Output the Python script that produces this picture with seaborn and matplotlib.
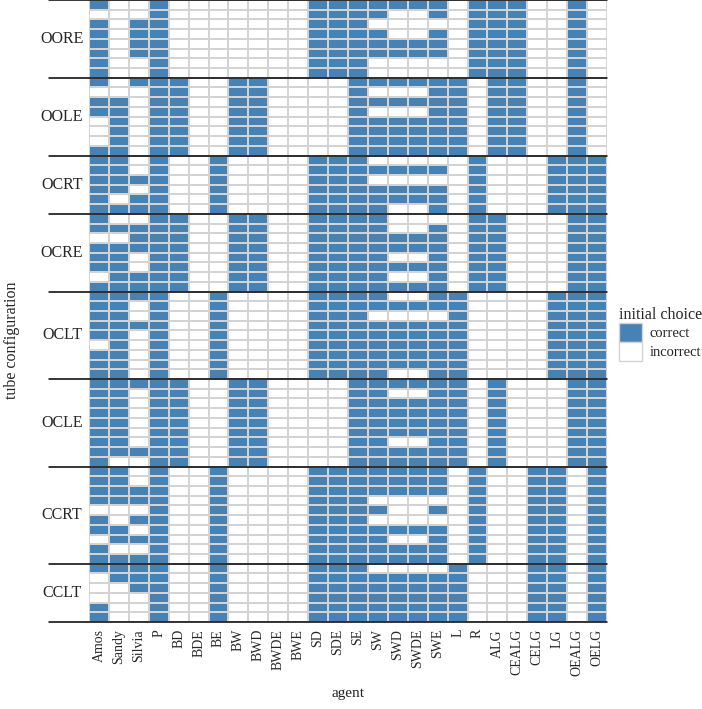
import numpy as np
import pandas as pd
import matplotlib
matplotlib.use("Agg")
import matplotlib.pyplot as plt
import matplotlib.transforms as mtrans
from matplotlib.colors import ListedColormap
from matplotlib.patches import Patch
import seaborn as sns

# -----------------------------
# Data (1 = correct, 0 = incorrect)
# column chunks: [Amos Sandy Silvia] [P BD BDE BE] [BW BWD BWDE BWE]
#                [SD SDE SE] [SW SWD SWDE SWE] [L R] [ALG CEALG CELG LG] [OEALG OELG]
# -----------------------------
agents = ["Amos", "Sandy", "Silvia", "P", "BD", "BDE", "BE", "BW", "BWD", "BWDE",
          "BWE", "SD", "SDE", "SE", "SW", "SWD", "SWDE", "SWE", "L", "R", "ALG",
          "CEALG", "CELG", "LG", "OEALG", "OELG"]

groups = ["OORE", "OOLE", "OCRT", "OCRE", "OCLT", "OCLE", "CCRT", "CCLT"]

oore = ["100 1000 0000 111 1111 01 1100 10",
        "000 1000 0000 111 1001 01 1100 10",
        "101 1000 0000 111 0000 01 1100 10",
        "101 1000 0000 111 1001 01 1100 10",
        "101 1000 0000 111 1111 01 1100 10",
        "101 1000 0000 111 1111 01 1100 10",
        "100 1000 0000 111 0000 01 1100 10",
        "100 1000 0000 111 0000 01 1100 10"]

oole = ["101 1100 1100 001 1111 10 1100 10",
        "000 1100 1100 001 0001 10 1100 10",
        "110 1100 1100 001 1111 10 1100 10",
        "110 1100 1100 001 0001 10 1100 10",
        "010 1100 1100 001 1111 10 1100 10",
        "010 1100 1100 001 1111 10 1100 10",
        "010 1100 1100 001 1111 10 1100 10",
        "110 1100 1100 001 1111 10 1100 10"]

ocrt = ["110 1001 0000 111 0000 01 0001 11",
        "110 1001 0000 111 1111 01 0001 11",
        "111 1001 0000 111 0000 01 0001 11",
        "110 1001 0000 111 1111 01 0001 11",
        "101 1001 0000 111 1111 01 0001 11",
        "111 1001 0000 111 1001 01 0001 11"]

ocre = ["100 1100 1100 111 1000 01 1000 11",
        "111 1100 1100 111 1001 01 1000 11",
        "001 1100 1100 111 1111 01 1000 11",
        "111 1100 1100 111 1111 01 1000 11",
        "110 1100 1100 111 1001 01 1000 11",
        "110 1100 1100 111 1111 01 1000 11",
        "011 1100 1100 111 1001 01 1000 11",
        "111 1100 1100 111 1111 01 1000 11"]

oclt = ["111 1001 0000 111 1001 10 0001 11",
        "110 1001 0000 111 1111 10 0001 11",
        "110 1001 0000 111 0000 10 0001 11",
        "111 1001 0000 111 1111 10 0001 11",
        "110 1001 0000 111 1111 10 0001 11",
        "010 1001 0000 111 1111 10 0001 11",
        "110 1001 0000 111 1111 10 0001 11",
        "110 1001 0000 111 1111 10 0001 11",
        "110 1001 0000 111 1001 10 0001 11"]

ocle = ["111 1100 1100 001 1111 10 1000 11",
        "110 1100 1100 001 1001 10 1000 11",
        "110 1100 1100 001 1111 10 1000 11",
        "110 1100 1100 001 1111 10 1000 11",
        "110 1100 1100 001 1111 10 1000 11",
        "110 1100 1100 001 1111 10 1000 11",
        "110 1100 1100 001 1001 10 1000 11",
        "111 1100 1100 001 1111 10 1000 11",
        "100 1100 1100 001 1111 10 1000 11"]

ccrt = ["110 1001 0000 111 1111 01 0011 01",
        "110 1001 0000 111 1111 01 0011 01",
        "111 1001 0000 111 1111 01 0011 01",
        "111 1001 0000 111 0000 01 0011 01",
        "000 1001 0000 111 1001 01 0011 01",
        "101 1001 0000 111 0000 01 0011 01",
        "110 1001 0000 111 1111 01 0011 01",
        "011 1001 0000 111 1001 01 0011 01",
        "100 1001 0000 111 1111 01 0011 01",
        "111 1001 0000 111 1111 01 0011 01"]

cclt = ["111 1001 0000 111 0000 10 0011 01",
        "011 1001 0000 111 1111 10 0011 01",
        "001 1001 0000 111 1111 10 0011 01",
        "000 1001 0000 111 1111 10 0011 01",
        "100 1001 0000 111 1111 10 0011 01",
        "100 1001 0000 111 1111 10 0011 01"]

group_rows = [oore, oole, ocrt, ocre, oclt, ocle, ccrt, cclt]

# -----------------------------
# Build matrix
# -----------------------------
rows = []
for g in group_rows:
    for r in g:
        rows.append([int(c) for c in r.replace(" ", "")])
df = pd.DataFrame(np.array(rows), columns=agents)

sizes = [len(g) for g in group_rows]
bounds = np.concatenate([[0], np.cumsum(sizes)])

# -----------------------------
# Plot
# -----------------------------
sns.set_style("white")
plt.rcParams["font.family"] = ["Liberation Serif", "DejaVu Serif"]

blue = "#4682b4"
grid = "#d3d3d3"
W, H = 702, 709

fig = plt.figure(figsize=(W / 100, H / 100), dpi=100)
ax = fig.add_axes([89 / W, 87 / H, (607 - 89) / W, 622 / H])

sns.heatmap(df, ax=ax, cmap=ListedColormap(["white", blue]), vmin=0, vmax=1,
            cbar=False, linewidths=1.2, linecolor=grid,
            xticklabels=True, yticklabels=False)

trans = mtrans.blended_transform_factory(ax.transAxes, ax.transData)
x0 = (49 - 89) / (607 - 89)
for b in bounds:
    ax.plot([x0, 1], [b, b], transform=trans, color="black", lw=1.1, clip_on=False)

for name, lo, hi in zip(groups, bounds[:-1], bounds[1:]):
    ax.text((62 - 89) / (607 - 89), (lo + hi) / 2, name, transform=trans,
            ha="center", va="center", fontsize=11.5)

ax.tick_params(axis="x", length=3, width=0.8, color="#333333", labelsize=10,
               rotation=90, pad=2)
ax.tick_params(axis="y", length=0)
ax.set_xlabel("agent", fontsize=11, labelpad=8)
ax.set_ylabel("")
fig.text(12 / W, 1 - 340 / H, "tube configuration", rotation=90,
         ha="center", va="center", fontsize=11.5)

handles = [Patch(facecolor=blue, edgecolor=grid, label="correct"),
           Patch(facecolor="white", edgecolor=grid, label="incorrect")]
leg = fig.legend(handles=handles, title="initial choice", loc="upper left",
                 bbox_to_anchor=(606 / W, 1 - 294 / H), frameon=False,
                 fontsize=10.5, title_fontsize=11.5, handlelength=1.6,
                 handleheight=1.6, handletextpad=0.5, labelspacing=0.0)
leg._legend_box.align = "left"

fig.savefig("out.png", dpi=100)
